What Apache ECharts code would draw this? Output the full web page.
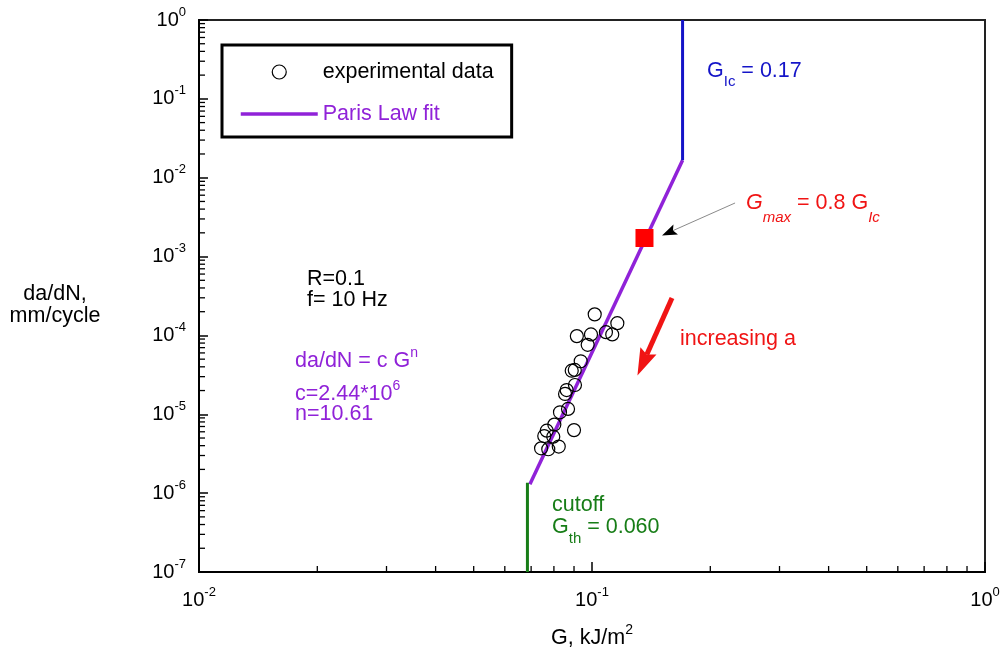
<!DOCTYPE html>
<html><head><meta charset="utf-8">
<script src="https://cdn.jsdelivr.net/npm/echarts@6/dist/echarts.min.js"></script>
<style>html,body{margin:0;padding:0;background:#fff}#c{width:1004px;height:654px}</style>
</head><body><div id="c"></div>
<script>
// ---------- data ----------
const expG = [0.1016,0.1160,0.0915,0.0994,0.0975,0.1085,0.1126,0.0936,0.0888,0.0904,0.0905,0.0862,0.0854,0.0869,0.0829,0.0802,0.0900,0.0767,0.0756,0.0797,0.0742,0.0774,0.0823];
const expRate = [1.85e-4,1.43e-4,9.8e-5,1.03e-4,7.6e-5,1.10e-4,1.03e-4,4.7e-5,3.57e-5,3.65e-5,2.35e-5,2.03e-5,1.81e-5,1.17e-5,1.06e-5,7.4e-6,6.3e-6,6.2e-6,5.3e-6,5.2e-6,3.7e-6,3.6e-6,3.9e-6];
const fitG = [0.0695, 0.17];
const fitRate = [1.3e-6, 1.67e-2];
const gIcG = [0.17, 0.17];
const gIcRate = [1.67e-2, 1];
const cutoffG = [0.0685, 0.0685];
const cutoffRate = [1e-7, 1.35e-6];
const gMaxG = [0.136];
const gMaxRate = [1.72e-3];
const xMin = 0.01, xMax = 1, yMin = 1e-7, yMax = 1;
const minorMultipliers = [2,3,4,5,6,7,8,9];
const xDecades = [0.01, 0.1];
const yDecades = [1e-7,1e-6,1e-5,1e-4,1e-3,1e-2,1e-1];
// annotation arrows (data coordinates): [start, tip]
const grayArrow = [[0.2312, 4.78e-3],[0.1507, 1.85e-3]];
const redArrow = [[0.1598, 2.98e-4],[0.1305, 3.10e-5]];

// ---------- styling ----------
const FONT = '"Liberation Sans", Arial, Helvetica, sans-serif';
const PURPLE='#9022d8', BLUE='#1414c8', GREEN='#177d17', RED='#f01414';
const FS = 21.5;

const xMinor = [], yMinor = [];
xDecades.forEach(d => minorMultipliers.forEach(m => xMinor.push([+(d*m).toPrecision(3), yMin])));
yDecades.forEach(d => minorMultipliers.forEach(m => yMinor.push([xMin, +(d*m).toPrecision(3)])));

const zip = (a,b) => a.map((v,i)=>[v,b[i]]);
function expLabel(v){ const e = Math.round(Math.log10(v)); return '{b|10}{s|' + e + '}'; }
const axisRich = {
  b:{fontSize:20, fontFamily:FONT, color:'#000'},
  s:{fontSize:13, fontFamily:FONT, color:'#000', padding:[0,0,16,0]}
};

const chart = echarts.init(document.getElementById('c'), null, {renderer:'canvas'});
chart.setOption({
  animation:false,
  backgroundColor:'#fff',
  grid:{left:199, right:19, top:20, bottom:82, show:true, borderColor:'#222', borderWidth:2, containLabel:false, outerBoundsMode:'none'},
  xAxis:{
    type:'log', logBase:10, min:xMin, max:xMax,
    axisLine:{lineStyle:{color:'#000', width:2}},
    axisTick:{inside:true, length:10, lineStyle:{color:'#000', width:1.5}},
    splitLine:{show:false},
    axisLabel:{margin:14, formatter:expLabel, rich:axisRich, showMinLabel:true, showMaxLabel:true},
    name:'{b|G, kJ/m}{s|2}', nameLocation:'middle', nameGap:51,
    nameTextStyle:{rich:{b:{fontSize:FS, fontFamily:FONT, color:'#000'}, s:{fontSize:14, fontFamily:FONT, color:'#000', padding:[0,0,16,0]}}}
  },
  yAxis:{
    type:'log', logBase:10, min:yMin, max:yMax,
    axisLine:{lineStyle:{color:'#000', width:2}},
    axisTick:{inside:true, length:9, lineStyle:{color:'#000', width:1.5}},
    splitLine:{show:false},
    axisLabel:{margin:13, formatter:expLabel, rich:axisRich, showMinLabel:true, showMaxLabel:true}
  },
  legend:{
    orient:'vertical', left:222, top:45, itemWidth:77, itemHeight:14, itemGap:20,
    padding:[16,18,12,17], borderColor:'#000', borderWidth:3, backgroundColor:'#fff',
    selectedMode:false, textStyle:{fontSize:FS, fontFamily:FONT, color:'#000'},
    lineStyle:{width:3.5},
    data:[
      {name:'experimental data', itemStyle:{color:'rgba(0,0,0,0)', borderColor:'#000', borderWidth:1.2}},
      {name:'Paris Law fit', textStyle:{color:PURPLE}, itemStyle:{opacity:0}}
    ]
  },
  series:[
    {name:'Paris Law fit', type:'line', data:zip(fitG, fitRate), symbol:'none', showSymbol:false,
     lineStyle:{color:PURPLE, width:3.5}, itemStyle:{color:PURPLE}, z:2, silent:true},
    {name:'G_Ic', type:'line', data:zip(gIcG, gIcRate), symbol:'none', lineStyle:{color:BLUE, width:3}, z:2, silent:true},
    {name:'cutoff', type:'line', data:zip(cutoffG, cutoffRate), symbol:'none', lineStyle:{color:GREEN, width:3}, z:2, silent:true},
    {name:'experimental data', type:'scatter', data:zip(expG, expRate), symbol:'circle', symbolSize:13,
     itemStyle:{color:'rgba(0,0,0,0)', borderColor:'#000', borderWidth:1.2, opacity:1}, z:3, silent:true},
    {name:'Gmax', type:'scatter', data:zip(gMaxG, gMaxRate), symbol:'rect', symbolSize:18,
     itemStyle:{color:'#ff0000', opacity:1}, z:4, silent:true},
    {name:'xminor', type:'custom', data:xMinor, silent:true, z:5,
     renderItem:(params, api) => { const p = api.coord([api.value(0), api.value(1)]);
       return {type:'line', shape:{x1:p[0], y1:p[1], x2:p[0], y2:p[1]-6}, style:{stroke:'#000', lineWidth:1.3}}; }},
    {name:'yminor', type:'custom', data:yMinor, silent:true, z:5,
     renderItem:(params, api) => { const p = api.coord([api.value(0), api.value(1)]);
       return {type:'line', shape:{x1:p[0], y1:p[1], x2:p[0]+6, y2:p[1]}, style:{stroke:'#000', lineWidth:1.3}}; }}
  ]
});

function arrowGraphics(arr, L, W, notch, shaftW, shaftColor, headColor){
  const s = chart.convertToPixel({gridIndex:0}, arr[0]);
  const t = chart.convertToPixel({gridIndex:0}, arr[1]);
  const dx = t[0]-s[0], dy = t[1]-s[1], len = Math.hypot(dx,dy);
  const ux = dx/len, uy = dy/len, nx = -uy, ny = ux;
  const bx = t[0]-L*ux, by = t[1]-L*uy;
  const mx = t[0]-(L-notch)*ux, my = t[1]-(L-notch)*uy;
  return [
    {type:'line', shape:{x1:s[0], y1:s[1], x2:mx, y2:my}, style:{stroke:shaftColor, lineWidth:shaftW}, z:10},
    {type:'polygon', shape:{points:[[t[0],t[1]],[bx+W*nx,by+W*ny],[mx,my],[bx-W*nx,by-W*ny]]}, style:{fill:headColor}, z:11}
  ];
}
function txt(x, y, text, fill, rich){
  return {type:'text', x:x, y:y, z:12, style:{text:text, fill:fill, fontSize:FS, fontFamily:FONT,
    textAlign:'left', textVerticalAlign:'middle', align:'left', verticalAlign:'middle', rich:rich||undefined}};
}
const supRich = (fill) => ({b:{fontSize:FS, fontFamily:FONT, fill:fill}, s:{fontSize:14, fontFamily:FONT, fill:fill, padding:[0,0,16,0]}});
const subRich = (fill, pad) => ({
  b:{fontSize:FS, fontFamily:FONT, fill:fill},
  bi:{fontSize:FS, fontFamily:FONT, fontStyle:'italic', fill:fill},
  sub:{fontSize:15, fontFamily:FONT, fill:fill, padding:[pad,0,0,0]},
  subi:{fontSize:15, fontFamily:FONT, fontStyle:'italic', fill:fill, padding:[pad,0,0,0]}
});

const graphics = [].concat(
  arrowGraphics(grayArrow, 15, 5.5, 3, 1, '#8a8a8a', '#000'),
  arrowGraphics(redArrow, 27, 8.8, 4, 5, RED, RED),
  [
    {type:'text', x:55, y:305, z:12, style:{text:'da/dN,\nmm/cycle', fill:'#000', fontSize:FS, fontFamily:FONT, lineHeight:22,
      textAlign:'center', align:'center', textVerticalAlign:'middle', verticalAlign:'middle'}},
    txt(307, 279, 'R=0.1', '#000'),
    txt(307, 300, 'f= 10 Hz', '#000'),
    txt(295, 361, '{b|da/dN = c G}{s|n}', PURPLE, supRich(PURPLE)),
    txt(295, 394, '{b|c=2.44*10}{s|6}', PURPLE, supRich(PURPLE)),
    txt(295, 414, 'n=10.61', PURPLE),
    txt(707, 71.5, '{b|G}{sub|Ic}{b| = 0.17}', BLUE, subRich(BLUE, 21)),
    txt(746, 203.5, '{bi|G}{subi|max}{b| = 0.8 G}{subi|Ic}', RED, subRich(RED, 28)),
    txt(680, 339, 'increasing a', RED),
    txt(552, 505, 'cutoff', GREEN),
    txt(552, 527, '{b|G}{sub|th}{b| = 0.060}', GREEN, subRich(GREEN, 24))
  ]
);
chart.setOption({graphic:graphics});
</script></body></html>
